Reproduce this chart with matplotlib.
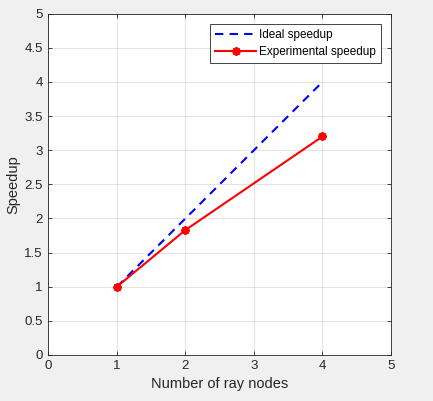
import matplotlib
matplotlib.use("Agg")
import matplotlib.pyplot as plt

# data
nodes = [1, 2, 4]
ideal_speedup = [1, 2, 4]
experimental_speedup = [1, 1.83, 3.2]

plt.rcParams["font.family"] = ["Liberation Sans", "DejaVu Sans"]

fig = plt.figure(figsize=(4.33, 4.01), dpi=100, facecolor="#f0f0f0")
ax = fig.add_axes([0.112, 0.115, 0.791, 0.851])

ax.plot(nodes, ideal_speedup, "--", color="#0000ff", lw=1.5, label="Ideal speedup", dashes=(4, 3))
ax.plot(nodes, experimental_speedup, "-", color="#ff0000", lw=1.5, marker=(8, 2, 0),
        markersize=6, markeredgewidth=1.5, label="Experimental speedup")

ax.set_xlim(0, 5)
ax.set_ylim(0, 5)
ax.set_xticks(range(0, 6))
ax.set_yticks([i * 0.5 for i in range(11)])
ax.set_yticklabels(["0", "0.5", "1", "1.5", "2", "2.5", "3", "3.5", "4", "4.5", "5"])

ax.grid(True, color="#262626", alpha=0.15, lw=0.6)
ax.set_axisbelow(True)
ax.tick_params(direction="in", length=3, width=0.6, colors="#262626",
               labelsize=9.5, top=True, right=True, pad=4)
for s in ax.spines.values():
    s.set_color("#262626")
    s.set_linewidth(0.6)

ax.set_xlabel("Number of ray nodes", fontsize=10.5, color="#262626", labelpad=3)
ax.set_ylabel("Speedup", fontsize=10.5, color="#262626", labelpad=3)

leg = ax.legend(loc="upper right", bbox_to_anchor=(0.97, 0.97), fontsize=8.5, fancybox=False,
                framealpha=1, edgecolor="#262626", borderpad=0.45, handlelength=3.4,
                handletextpad=0.25, labelspacing=0.4, borderaxespad=0)
leg.get_frame().set_linewidth(0.6)

fig.savefig("out.png", dpi=100, facecolor=fig.get_facecolor())
